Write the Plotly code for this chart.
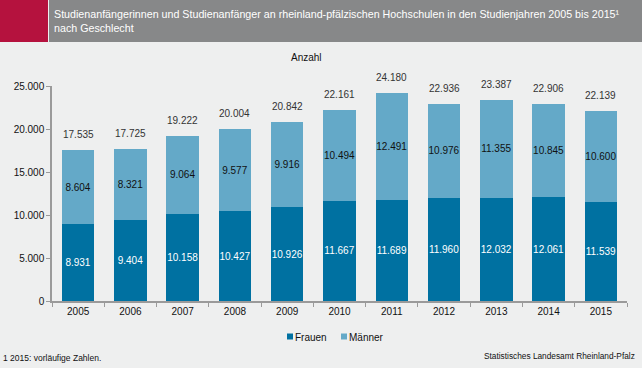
import plotly.graph_objects as go

years = ["2005", "2006", "2007", "2008", "2009", "2010", "2011", "2012", "2013", "2014", "2015"]
frauen = [8931, 9404, 10158, 10427, 10926, 11667, 11689, 11960, 12032, 12061, 11539]
maenner = [8604, 8321, 9064, 9577, 9916, 10494, 12491, 10976, 11355, 10845, 10600]
totals = [f + m for f, m in zip(frauen, maenner)]

def de(n):
    return f"{n:,}".replace(",", ".")

W, H = 642, 368
L, R, T, B = 52, 15, 86, 67
PW, PH = W - L - R, H - T - B

def px(x):
    return (x - L) / PW

def py(y):
    return (H - B - y) / PH

FONT = "Liberation Sans, Arial, sans-serif"
C_F = "#0071a1"
C_M = "#64a9c8"
BG = "#eeefef"
FS = 10

fig = go.Figure()
fig.add_trace(go.Bar(
    x=years, y=frauen, name="Frauen", marker_color=C_F, marker_line_width=0,
    text=[de(v) for v in frauen], textposition="inside", insidetextanchor="middle", textangle=0,
    constraintext="none",
    textfont=dict(color="white", size=FS, family=FONT), width=0.62, showlegend=False,
))
fig.add_trace(go.Bar(
    x=years, y=maenner, name="Männer", marker_color=C_M, marker_line_width=0,
    text=[de(v) for v in maenner], textposition="inside", insidetextanchor="middle", textangle=0,
    constraintext="none",
    textfont=dict(color="#111111", size=FS, family=FONT), width=0.62, showlegend=False,
))

shapes = [
    dict(type="rect", xref="paper", yref="paper", x0=px(0), x1=px(48), y0=py(42), y1=py(0),
         fillcolor="#b5123e", line_width=0, layer="above"),
    dict(type="rect", xref="paper", yref="paper", x0=px(49), x1=px(W), y0=py(42), y1=py(0),
         fillcolor="#878889", line_width=0, layer="above"),
    # legend swatches
    dict(type="rect", xref="paper", yref="paper", x0=px(287), x1=px(293), y0=py(339.5), y1=py(333.5),
         fillcolor=C_F, line_width=0),
    dict(type="rect", xref="paper", yref="paper", x0=px(341), x1=px(347), y0=py(339.5), y1=py(333.5),
         fillcolor=C_M, line_width=0),
]

annotations = [
    dict(text="Studienanfängerinnen und Studienanfänger an rheinland-pfälzischen Hochschulen in den Studienjahren 2005 bis 2015¹<br>nach Geschlecht",
         xref="paper", yref="paper", x=px(52), y=py(21), xanchor="left", yanchor="middle",
         align="left", showarrow=False, font=dict(color="white", size=10.7, family=FONT)),
    dict(text="Anzahl", xref="paper", yref="paper", x=px(306), y=py(58), xanchor="center",
         yanchor="middle", showarrow=False, font=dict(color="#111111", size=FS, family=FONT)),
    dict(text="Frauen", xref="paper", yref="paper", x=px(293), y=py(337), xanchor="left",
         yanchor="middle", showarrow=False, font=dict(color="#111111", size=FS, family=FONT)),
    dict(text="Männer", xref="paper", yref="paper", x=px(347), y=py(337), xanchor="left",
         yanchor="middle", showarrow=False, font=dict(color="#111111", size=FS, family=FONT)),
    dict(text="1 2015: vorläufige Zahlen.", xref="paper", yref="paper", x=px(1), y=py(358),
         xanchor="left", yanchor="middle", showarrow=False, font=dict(color="#111111", size=8.5, family=FONT)),
    dict(text="Statistisches Landesamt Rheinland-Pfalz", xref="paper", yref="paper", x=px(637), y=py(356),
         xanchor="right", yanchor="middle", showarrow=False, font=dict(color="#111111", size=8.3, family=FONT)),
]

# total labels above each stacked bar (x given as category index)
for i, tot in enumerate(totals):
    annotations.append(dict(
        text=de(tot), x=i, y=tot, xref="x", yref="y", xanchor="center", yanchor="bottom",
        yshift=8, showarrow=False, font=dict(color="#333333", size=FS, family=FONT),
    ))

fig.update_layout(
    width=W, height=H,
    margin=dict(l=L, r=R, t=T, b=B, pad=0),
    paper_bgcolor=BG, plot_bgcolor=BG,
    barmode="stack",
    bargap=0.38,
    font=dict(family=FONT, size=FS, color="#111111"),
    showlegend=False,
    shapes=shapes,
    annotations=annotations,
    xaxis=dict(type="category", range=[-0.5, len(years) - 0.5], showgrid=False, showline=True,
               linecolor="#9a9a9a", linewidth=1.5,
               ticks="outside", tickcolor="#9a9a9a", ticklen=4, tickson="boundaries",
               tickfont=dict(size=FS, family=FONT, color="#111111"), fixedrange=True),
    yaxis=dict(range=[0, 25000], dtick=5000, showgrid=False, showline=True, linecolor="#9a9a9a",
               linewidth=1.5, ticks="outside", tickcolor="#9a9a9a", ticklen=4,
               tickformat=",d", zeroline=False,
               tickfont=dict(size=FS, family=FONT, color="#111111"), fixedrange=True),
    separators=",.",
)

fig.write_html("out.html", config={"displayModeBar": False},
               post_script="document.body.style.margin='0';document.body.style.overflow='hidden';")
